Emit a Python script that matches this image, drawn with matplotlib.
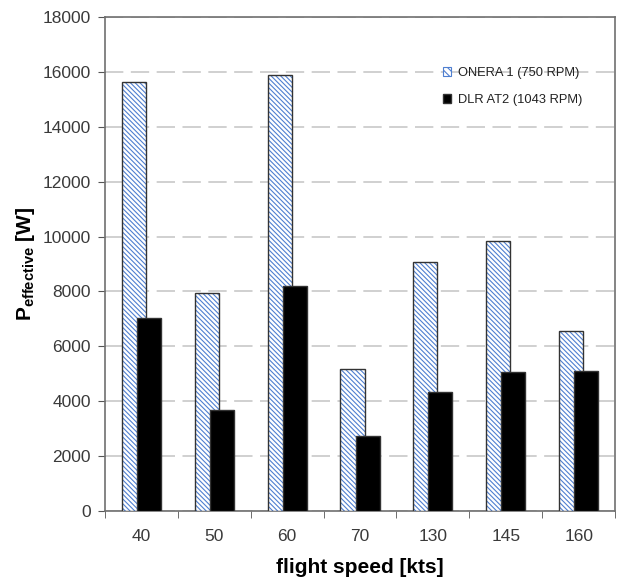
import matplotlib
matplotlib.use('Agg')
import matplotlib.pyplot as plt
import numpy as np

speeds = ['40', '50', '60', '70', '130', '145', '160']
onera = [15650, 7950, 15880, 5180, 9060, 9850, 6560]
dlr = [7050, 3690, 8200, 2730, 4330, 5070, 5100]

plt.rcParams['font.family'] = ['Liberation Sans', 'DejaVu Sans']
plt.rcParams['mathtext.fontset'] = 'custom'
plt.rcParams['mathtext.rm'] = 'Liberation Sans'
plt.rcParams['mathtext.bf'] = 'Liberation Sans:bold'
plt.rcParams['hatch.linewidth'] = 0.8


def plot_power_by_speed():
    fig = plt.figure(figsize=(6.17, 5.81), dpi=100)
    ax = fig.add_axes([0.170, 0.1205, 0.827, 0.8502])

    x = np.arange(len(speeds))
    w = 0.33
    off = 0.103

    # hatched bars: fill pass then outline pass
    ax.bar(x - off, onera, w, color='white', edgecolor='#4f7fd0',
           hatch='\\\\\\\\\\\\\\', linewidth=0, zorder=3)
    ax.bar(x - off, onera, w, fill=False, edgecolor='#333333',
           linewidth=1.0, zorder=3)
    ax.bar(x + off, dlr, w, color='black', edgecolor='#333333',
           linewidth=1.0, zorder=4)

    # legend proxies
    h1 = plt.Rectangle((0, 0), 1, 1, facecolor='white', edgecolor='#4f7fd0',
                       hatch='\\\\\\\\\\', linewidth=0.8)
    h2 = plt.Rectangle((0, 0), 1, 1, facecolor='black', edgecolor='#333333')
    leg = ax.legend([h1, h2], ['ONERA 1 (750 RPM)', 'DLR AT2 (1043 RPM)'],
                    loc='upper left', bbox_to_anchor=(0.64, 0.922),
                    frameon=False, fontsize=9.3, handlelength=0.65,
                    handleheight=0.65, handletextpad=0.5, labelspacing=1.15)
    for t in leg.get_texts():
        t.set_color('#222222')

    ax.set_xlim(-0.5, len(speeds) - 0.5)
    ax.set_ylim(0, 18000)
    ax.set_yticks(np.arange(0, 18001, 2000))
    ax.set_xticks(x)
    ax.set_xticklabels(speeds)
    ax.set_xticks(np.arange(-0.5, len(speeds), 1.0), minor=True)
    ax.tick_params(axis='x', which='major', length=0, pad=13,
                   labelsize=12.5, labelcolor='#3a3a3a')
    ax.tick_params(axis='x', which='minor', length=5, direction='out',
                   color='#555555')
    ax.tick_params(axis='y', length=5, direction='out', color='#555555',
                   labelsize=12.5, labelcolor='#3a3a3a', pad=5)

    ax.grid(axis='y', linestyle=(0, (11, 4.5)), color='#c8c8c8',
            linewidth=1.2, zorder=0)
    for s in ax.spines.values():
        s.set_color('#707070')
        s.set_linewidth(1.2)

    ax.set_xlabel('flight speed [kts]', fontsize=15, fontweight='bold',
                  labelpad=10)
    ax.set_ylabel(r'$\mathbf{P_{effective}}$ $\mathbf{[W]}$', fontsize=15,
                  labelpad=4)

    fig.savefig('out.png', dpi=100)
    plt.close(fig)


if __name__ == '__main__':
    plot_power_by_speed()
